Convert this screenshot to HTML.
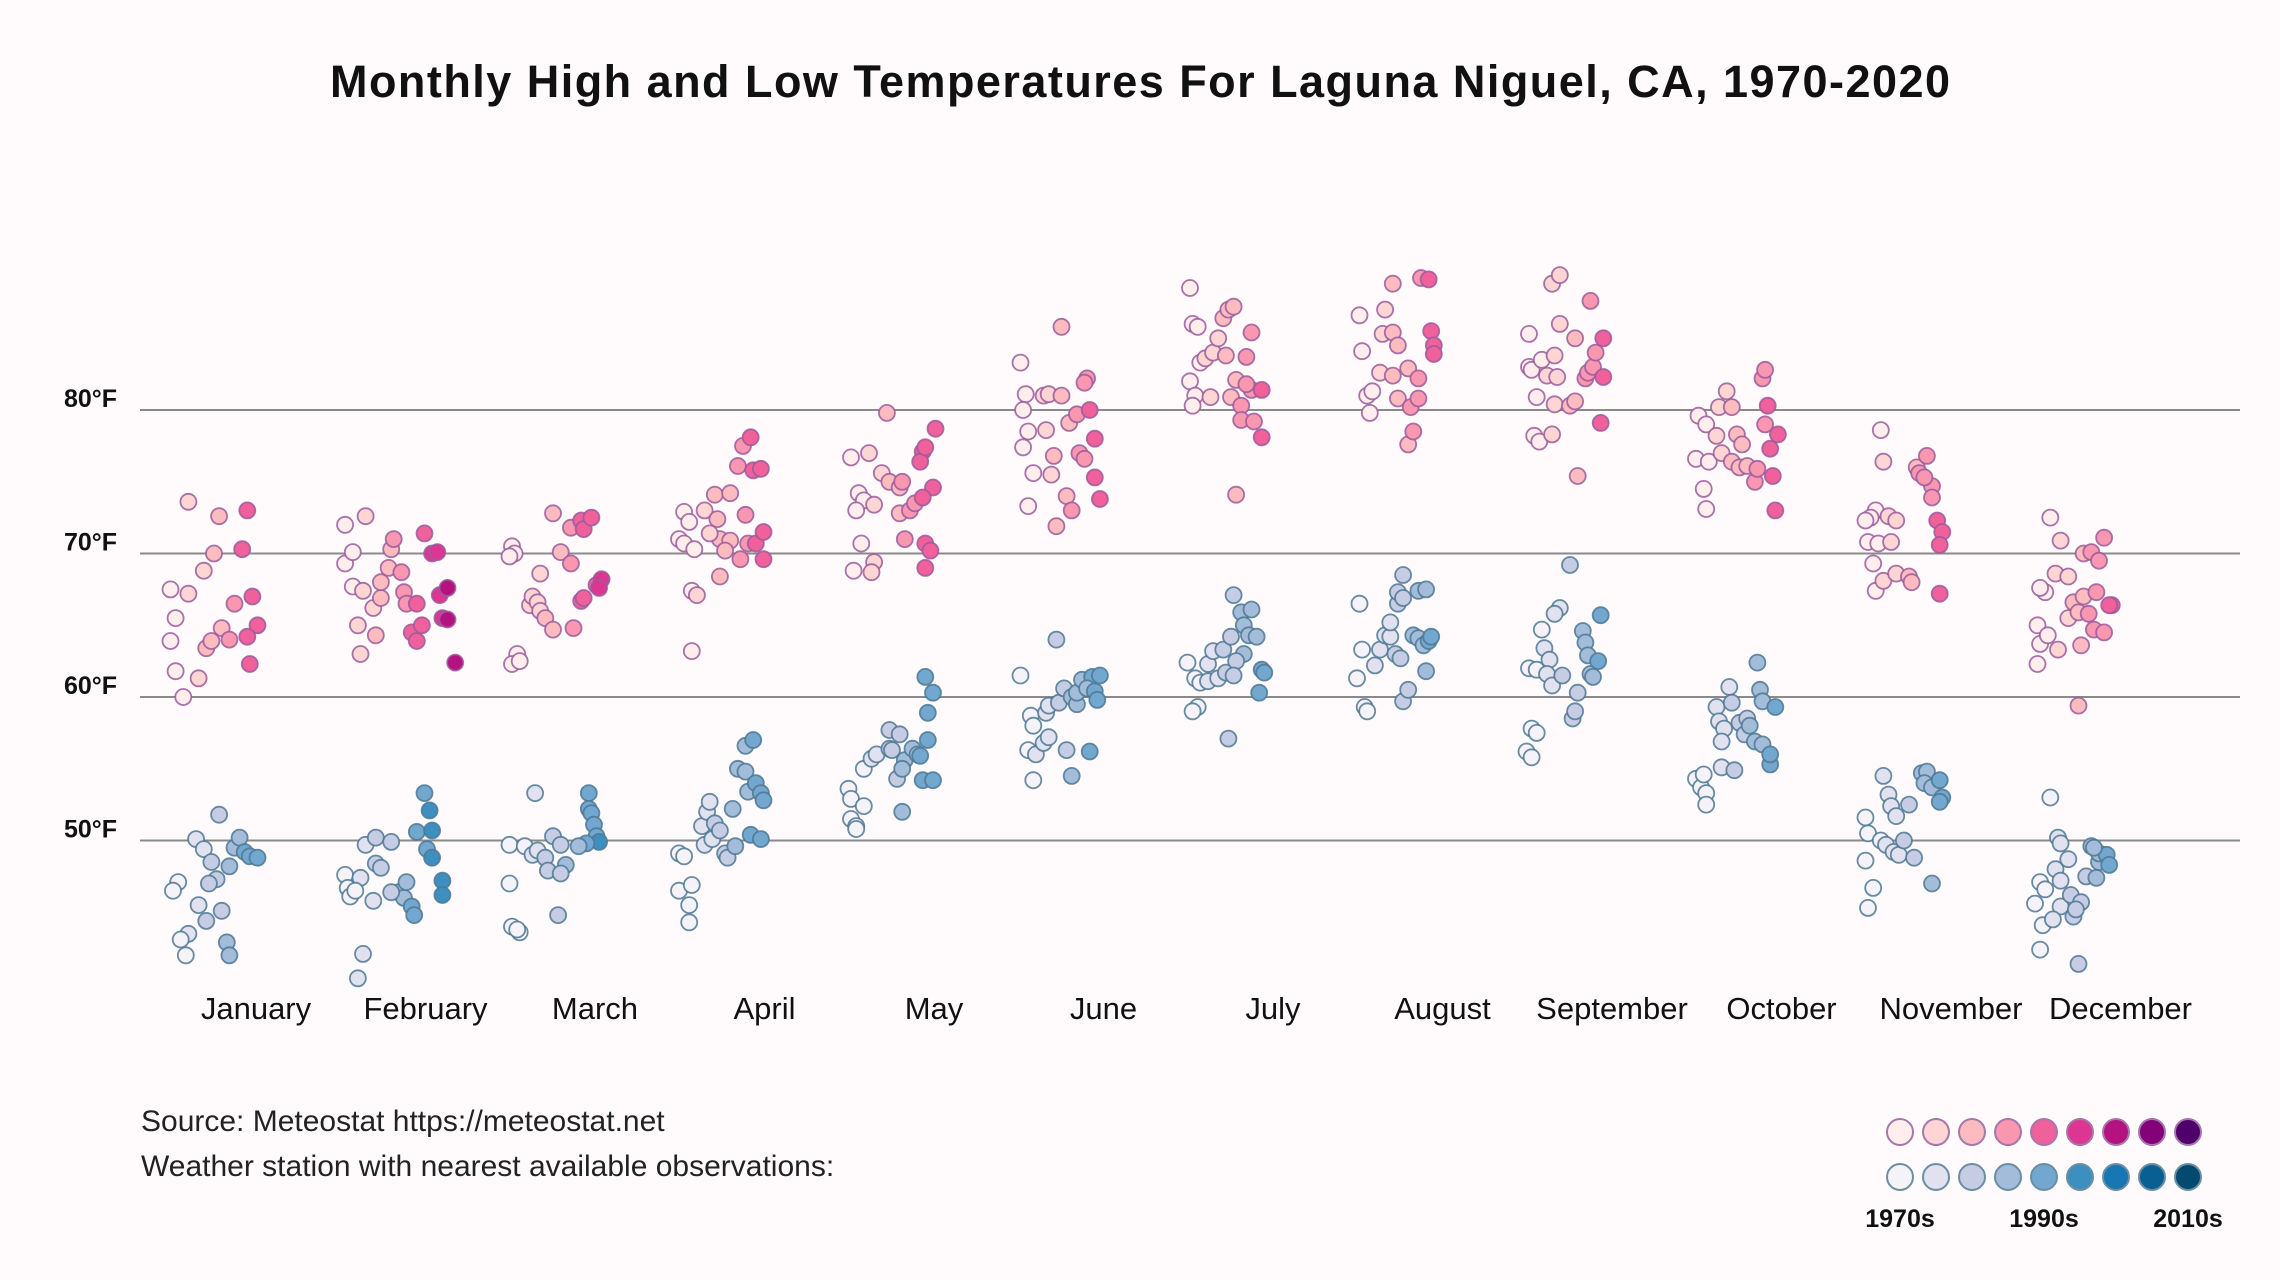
<!DOCTYPE html>
<html><head><meta charset="utf-8">
<style>
html,body{margin:0;padding:0;background:#fffbfc;}
svg{display:block;font-family:"Liberation Sans",sans-serif;}
</style></head>
<body>
<svg id="chart" width="2280" height="1280" viewBox="0 0 2280 1280" xmlns="http://www.w3.org/2000/svg">
<rect width="2280" height="1280" fill="#fffbfc"/>
<text x="1140" y="97" text-anchor="middle" font-size="45" font-weight="bold" fill="#111" textLength="1620">Monthly High and Low Temperatures For Laguna Niguel, CA, 1970-2020</text>
<g id="grid"></g>
<g id="dots"></g>
<g id="months"></g>
<text x="141" y="1131" font-size="30" fill="#222">Source: Meteostat https://meteostat.net</text>
<text x="141" y="1176" font-size="30" fill="#222">Weather station with nearest available observations:</text>
<g id="legend"></g>
</svg>
<script>
const monthNames=["January","February","March","April","May","June","July","August","September","October","November","December"];
const tickValues=[80,70,60,50];
const tickLabels=["80°F","70°F","60°F","50°F"];
const legendLabels=["1970s","1990s","2010s"];
const pinkFills=["#ffeeeb","#fdd5d3","#fcbbbe","#f996b0","#f0609b","#dc3592","#b4127f","#830277","#4f006a"];
const blueFills=["#f5f2f8","#e1e1ef","#c6cce4","#a2bcd9","#72a7cf","#3d8fc0","#1777b2","#0a5f92","#034a6e"];
const highObs=[
[[1977,73.6],[1970,67.5],[1972,65.5],[1970,63.9],[1972,61.8],[1975,60.0],[1981,61.3],[1977,67.2],[1983,68.8],[1987,70.0],[1989,72.6],[1995,66.5],[1990,64.8],[1984,63.4],[2000,73.0],[1998,70.3],[2002,67.0],[2004,65.0],[2000,64.2],[2001,62.3],[1993,64.0],[1986,63.9]],
[[1972,72.0],[1980,72.6],[1972,69.3],[1975,70.1],[1975,67.7],[1979,67.4],[1983,66.2],[1977,65.0],[1978,63.0],[1984,64.3],[1986,66.9],[1986,68.0],[1989,69.0],[1990,70.3],[1991,71.0],[1994,68.7],[1995,67.3],[1996,66.5],[2000,66.5],[1998,64.5],[2000,63.9],[2002,65.0],[2003,71.4],[2006,70.0],[2008,70.1],[2009,67.1],[2012,67.6],[2010,65.5],[2012,65.4],[2015,62.4]],
[[1971,70.5],[1972,70.0],[1970,69.8],[1973,63.0],[1971,62.3],[1974,62.5],[1978,66.4],[1979,67.0],[1981,66.6],[1982,66.0],[1984,65.5],[1987,64.7],[1982,68.6],[1987,72.8],[1990,70.1],[1994,69.3],[1994,71.8],[1998,72.3],[1999,71.7],[2002,72.5],[2004,67.8],[2006,68.2],[2005,67.6],[1998,66.7],[1999,66.9],[1995,64.8]],
[[1972,72.9],[1974,72.2],[1970,71.0],[1972,70.7],[1976,70.3],[1975,67.4],[1977,67.1],[1975,63.2],[1980,73.0],[1984,74.1],[1985,72.4],[1986,71.0],[1982,71.4],[1986,68.4],[1990,70.9],[1990,74.2],[1995,77.5],[1998,78.1],[1993,76.1],[1999,75.8],[2002,75.9],[1996,72.7],[1997,70.7],[2000,70.7],[2003,71.5],[2003,69.6],[1994,69.6],[1988,70.2]],
[[1971,76.7],[1978,77.0],[1974,74.2],[1976,73.7],[1973,73.0],[1980,73.4],[1975,70.7],[1980,69.4],[1972,68.8],[1979,68.7],[1983,75.6],[1986,75.0],[1990,74.6],[1990,72.8],[1994,73.0],[1996,73.5],[1991,75.0],[1985,79.8],[1999,77.1],[1998,76.4],[2003,74.6],[1999,73.9],[1992,71.0],[2000,70.7],[2002,70.2],[2000,69.0],[2004,78.7],[2000,77.4]],
[[1971,83.3],[1973,81.1],[1972,80.0],[1974,78.5],[1972,77.4],[1976,75.6],[1974,73.3],[1987,85.8],[1980,81.0],[1982,81.1],[1981,78.6],[1984,76.8],[1983,75.5],[1985,71.9],[1987,81.0],[1990,79.1],[1993,79.7],[1989,74.0],[1991,73.0],[1994,77.0],[1996,76.6],[1997,82.2],[1996,81.9],[1998,80.0],[2000,78.0],[2000,75.3],[2002,73.8]],
[[1971,88.5],[1972,86.0],[1974,85.8],[1975,83.3],[1971,82.0],[1973,81.0],[1972,80.3],[1979,80.9],[1977,83.6],[1980,84.0],[1982,85.0],[1984,86.4],[1986,87.0],[1988,87.2],[1985,83.8],[1989,82.1],[1987,80.9],[1991,80.3],[1991,79.3],[1993,83.7],[1995,85.4],[1995,81.4],[1999,81.4],[1996,79.2],[1999,78.1],[1989,74.1],[1993,81.8]],
[[1971,86.6],[1972,84.1],[1974,81.0],[1975,79.8],[1976,81.3],[1979,82.6],[1980,85.3],[1981,87.0],[1984,88.8],[1984,85.4],[1986,84.5],[1984,82.4],[1986,80.8],[1991,80.2],[1990,82.9],[1990,77.6],[1992,78.5],[1994,82.2],[1995,89.2],[1998,89.1],[1999,85.5],[2000,84.5],[2000,83.9],[1994,80.8]],
[[1971,85.3],[1971,83.0],[1972,82.8],[1974,80.9],[1973,78.2],[1975,77.8],[1978,82.4],[1976,83.5],[1980,88.8],[1983,89.4],[1983,86.0],[1981,83.8],[1982,82.3],[1981,80.4],[1980,78.3],[1987,80.3],[1989,80.6],[1989,85.0],[1990,75.4],[1993,82.2],[1994,82.6],[1996,83.0],[1997,84.0],[1995,87.6],[2000,85.0],[2000,82.3],[1999,79.1]],
[[1971,79.6],[1974,79.0],[1970,76.6],[1973,74.5],[1974,73.1],[1975,76.4],[1978,78.2],[1980,77.0],[1979,80.2],[1982,81.3],[1984,80.2],[1986,78.3],[1984,76.4],[1987,76.0],[1990,76.1],[1988,77.6],[1993,75.0],[1996,82.2],[1997,82.8],[1998,80.3],[1997,79.0],[1999,77.3],[2000,75.4],[2002,78.3],[2001,73.0],[1994,75.9]],
[[1976,78.6],[1977,76.4],[1974,73.0],[1972,72.5],[1970,72.3],[1971,70.8],[1975,70.7],[1973,69.3],[1974,67.4],[1977,68.1],[1979,72.6],[1980,70.8],[1982,72.3],[1982,68.6],[1987,68.4],[1988,68.0],[1990,76.0],[1994,76.8],[1991,75.6],[1996,74.7],[1993,75.3],[1998,72.3],[2000,71.5],[1999,70.6],[1999,67.2],[1996,73.9]],
[[1976,72.5],[1980,70.9],[1974,67.3],[1972,67.6],[1971,65.0],[1972,63.7],[1975,64.3],[1971,62.3],[1978,68.6],[1983,68.4],[1983,65.5],[1979,63.3],[1985,66.6],[1987,65.9],[1989,70.0],[1989,67.0],[1988,63.6],[1992,70.1],[1995,69.5],[1991,65.8],[1993,64.7],[1997,64.5],[1994,67.3],[1997,71.1],[2000,66.4],[1999,66.4],[1987,59.4]]
];
const lowObs=[
[[1980,50.1],[1983,49.4],[1986,48.5],[1988,47.3],[1989,51.8],[1985,47.0],[1973,47.1],[1971,46.5],[1981,45.5],[1984,44.4],[1990,45.1],[1977,43.5],[1974,43.1],[1992,42.9],[1993,42.0],[1976,42.0],[1995,49.5],[1997,50.2],[1999,49.2],[2001,48.9],[2004,48.8],[1993,48.2]],
[[1972,47.6],[1973,46.7],[1974,46.1],[1978,47.4],[1976,46.5],[1980,49.7],[1984,50.2],[1990,49.9],[1984,48.4],[1986,48.1],[1983,45.8],[1993,46.4],[1995,46.0],[1990,46.4],[1996,47.1],[1998,45.4],[1999,44.8],[2000,50.6],[2003,53.3],[2005,52.1],[2006,50.7],[2004,49.4],[2006,48.8],[2010,47.2],[2010,46.2],[1979,42.1],[1977,40.4]],
[[1970,49.7],[1970,47.0],[1971,44.0],[1974,43.6],[1973,43.8],[1976,49.6],[1979,49.0],[1981,49.3],[1984,48.8],[1987,50.3],[1990,49.7],[1985,47.9],[1992,48.3],[1990,47.7],[1989,44.8],[1980,53.3],[2001,53.3],[2001,52.2],[2002,51.9],[2003,51.1],[2004,50.3],[2005,49.9],[2000,49.8],[1997,49.6]],
[[1970,49.1],[1972,48.9],[1970,46.5],[1975,46.9],[1974,45.5],[1974,44.3],[1979,51.0],[1981,52.0],[1982,52.7],[1984,51.2],[1980,49.7],[1983,50.1],[1988,49.1],[1989,48.8],[1991,52.2],[1993,55.0],[1996,54.8],[1996,56.6],[1999,57.0],[1997,53.4],[2000,54.0],[2002,53.3],[2003,52.8],[1998,50.4],[2002,50.1],[1992,49.6],[1986,50.7]],
[[1970,53.6],[1971,52.9],[1976,52.4],[1971,51.5],[1973,51.0],[1973,50.8],[1976,55.0],[1979,55.7],[1981,56.0],[1986,56.4],[1986,57.7],[1990,57.4],[1987,56.3],[1992,55.6],[1989,54.3],[1991,55.0],[1995,56.4],[1997,56.0],[1991,52.0],[1998,55.9],[2001,57.0],[2001,58.9],[2000,61.4],[2003,60.3],[1999,54.2],[2003,54.2]],
[[1971,61.5],[1975,58.7],[1976,58.0],[1974,56.3],[1977,56.0],[1976,54.2],[1981,58.9],[1982,59.4],[1980,56.8],[1982,57.2],[1985,64.0],[1986,59.6],[1988,60.6],[1991,60.0],[1993,59.5],[1989,56.3],[1991,54.5],[1993,60.3],[1995,61.2],[1999,61.4],[1997,60.6],[2000,60.4],[2001,59.8],[1998,56.2],[2002,61.5]],
[[1970,62.4],[1973,61.3],[1975,61.0],[1974,59.3],[1972,59.0],[1978,62.3],[1980,63.2],[1978,61.1],[1982,61.3],[1985,61.7],[1984,63.3],[1987,64.2],[1988,67.1],[1991,65.9],[1992,65.0],[1995,66.1],[1994,64.3],[1997,64.2],[1992,63.0],[1989,62.5],[1988,61.5],[1986,57.1],[1999,61.9],[2000,61.7],[1998,60.3]],
[[1971,66.5],[1972,63.3],[1970,61.3],[1973,59.3],[1974,59.0],[1977,62.2],[1979,63.3],[1981,64.3],[1983,64.2],[1985,63.0],[1983,65.2],[1986,66.5],[1986,67.3],[1988,68.5],[1988,66.9],[1988,59.7],[1990,60.5],[1987,62.7],[1992,64.3],[1994,64.1],[1996,63.6],[1998,63.9],[1999,64.2],[1994,67.4],[1997,67.5],[1997,61.8]],
[[1971,62.0],[1974,61.9],[1972,57.8],[1974,57.5],[1970,56.2],[1972,55.8],[1976,64.7],[1977,63.4],[1979,62.6],[1978,61.6],[1980,60.8],[1983,66.2],[1981,65.8],[1984,61.5],[1988,58.5],[1989,59.0],[1990,60.3],[1987,69.2],[1992,64.6],[1993,63.8],[1994,62.9],[1995,61.6],[1998,62.5],[1999,65.7],[1996,61.4]],
[[1970,54.3],[1972,53.7],[1974,53.3],[1974,52.5],[1973,54.6],[1978,59.3],[1979,58.3],[1981,57.8],[1980,56.9],[1983,60.7],[1984,59.6],[1987,58.2],[1989,57.4],[1980,55.1],[1985,54.9],[1990,58.5],[1991,58.0],[1993,56.9],[1994,62.4],[1995,60.5],[1996,59.7],[1996,56.7],[1999,55.3],[2001,59.3],[1999,56.0]],
[[1970,51.6],[1971,50.5],[1970,48.6],[1973,46.7],[1971,45.3],[1977,54.5],[1979,53.2],[1980,52.4],[1982,51.7],[1976,50.0],[1978,49.7],[1981,49.2],[1983,49.0],[1985,50.0],[1989,48.8],[1987,52.5],[1992,54.7],[1994,54.8],[1993,54.0],[1996,53.7],[2000,53.0],[1999,52.7],[1999,54.2],[1996,47.0]],
[[1976,53.0],[1970,45.6],[1972,47.1],[1974,46.6],[1973,44.1],[1972,42.4],[1978,48.0],[1980,47.2],[1980,45.4],[1977,44.5],[1979,50.2],[1980,49.8],[1983,48.7],[1984,46.2],[1985,44.7],[1988,45.7],[1986,45.2],[1987,41.4],[1990,47.5],[1994,47.4],[1995,48.5],[1992,49.6],[1995,49.1],[1998,49.0],[1999,48.3],[1993,49.5]]
];

const NS="http://www.w3.org/2000/svg";
function yScale(t){return 410+(80-t)*14.35;}
function monthCenter(i){return 214+i*169.5;}
function xScale(i,year){return monthCenter(i)+(year-1987)*2.56;}
function colorIdx(year){return Math.max(0,Math.min(8,Math.floor((year-1970)/7)));}
function mk(tag,attrs,parent){const e=document.createElementNS(NS,tag);for(const k in attrs)e.setAttribute(k,attrs[k]);parent.appendChild(e);return e;}

const grid=document.getElementById('grid');
tickValues.forEach((v,i)=>{
  const l=mk('line',{x1:140,x2:2240,y1:yScale(v),y2:yScale(v),stroke:'#8a8a8a','stroke-width':2},grid);
  
  
  const t=mk('text',{x:64,y:yScale(v)-3,'font-size':25,'font-weight':'bold',fill:'#111'},grid);
  t.textContent=tickLabels[i];
  
  
});

const dots=document.getElementById('dots');
function drawSeries(obs,fills,stroke,kind){
  obs.forEach((arr,mi)=>{
    arr.forEach(([yr,t])=>{
      const c=mk('circle',{cx:xScale(mi,yr).toFixed(1),cy:yScale(t).toFixed(1),r:8,fill:fills[colorIdx(yr)],stroke:stroke,'stroke-width':1.8,'stroke-opacity':0.85},dots);
      
      
    });
  });
}
drawSeries(highObs,pinkFills,'#9a5a9e','high-temp');
drawSeries(lowObs,blueFills,'#4d7893','low-temp');

const months=document.getElementById('months');
monthNames.forEach((m,i)=>{
  const t=mk('text',{x:monthCenter(i)+42,y:1019,'text-anchor':'middle','font-size':31,fill:'#111'},months);
  t.textContent=m;
  
  
});

const legend=document.getElementById('legend');
for(let i=0;i<9;i++){
  const a=mk('circle',{cx:1900+i*36,cy:1132,r:13,fill:pinkFills[i],stroke:'#a477ae','stroke-width':2},legend);
  
  
  const b=mk('circle',{cx:1900+i*36,cy:1177,r:13,fill:blueFills[i],stroke:'#6b8ea3','stroke-width':2},legend);
  
  
}
legendLabels.forEach((lab,i)=>{
  const t=mk('text',{x:1900+i*144,y:1227,'text-anchor':'middle','font-size':25,'font-weight':'bold',fill:'#111'},legend);
  t.textContent=lab;
  
  
});
</script>
</body></html>
